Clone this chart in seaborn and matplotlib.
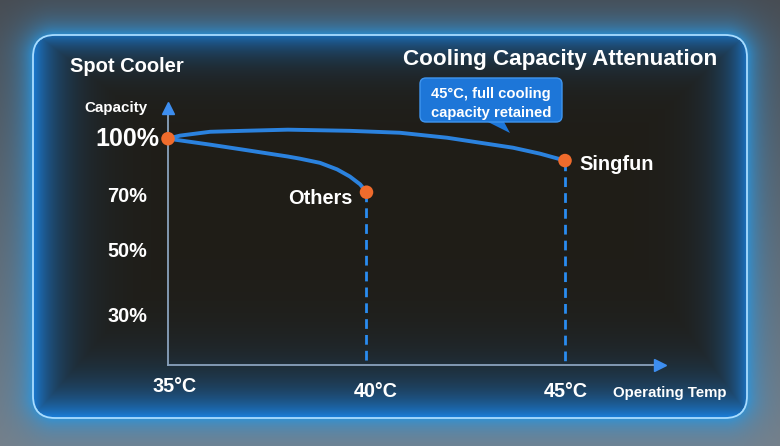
import numpy as np
import pandas as pd
import matplotlib
matplotlib.use("Agg")
import matplotlib.pyplot as plt
import seaborn as sns
from matplotlib.patches import FancyBboxPatch, Polygon

# ---------------- data ----------------
temp_singfun = [35.0, 35.3, 36.06, 36.89, 38.02, 39.58, 40.84, 42.03, 43.69, 44.37, 45.0]
cap_singfun = [100.0, 101.6, 103.6, 104.1, 104.7, 104.1, 103.1, 100.5, 95.3, 92.2, 88.6]
temp_others = [35.0, 36.06, 36.89, 38.02, 38.32, 38.83, 39.26, 39.58, 39.84, 40.0]
cap_others = [100.0, 96.9, 94.3, 90.7, 89.6, 87.4, 84.0, 80.3, 76.2, 72.1]
y_ticks = [100, 70, 50, 30]
y_labels = ["100%", "70%", "50%", "30%"]
x_ticks = [35, 40, 45]
x_labels = ["35°C", "40°C", "45°C"]
series_names = ["Singfun", "Others"]

# non-linear capacity axis as drawn in the picture (pct -> vertical position)
scale_pct = [0, 30, 50, 70, 100, 130]
scale_pos = [-415.5, -318, -253, -197, -139, -81]

sns.set_theme(style="white")
plt.rcParams["font.family"] = ["Liberation Sans", "DejaVu Sans"]

W, H = 780, 446
fig = plt.figure(figsize=(W / 100, H / 100), dpi=100)

# ---------------- background with glowing frame ----------------
yy, xx = np.mgrid[0:H, 0:W].astype(float) + 0.5
x0, x1, y0, y1, r = 33, 747, 35, 418, 22
cx, cy = (x0 + x1) / 2, (y0 + y1) / 2
hx, hy = (x1 - x0) / 2, (y1 - y0) / 2
qx = np.abs(xx - cx) - (hx - r)
qy = np.abs(yy - cy) - (hy - r)
sd = np.hypot(np.maximum(qx, 0), np.maximum(qy, 0)) + np.minimum(np.maximum(qx, qy), 0) - r
inside = sd < 0
dl, dr, dt, db = xx - x0, x1 - xx, yy - y0, y1 - yy
g_in = np.maximum.reduce([
    0.95 * np.exp(-np.clip(dl, 0, None) / 26),
    0.85 * np.exp(-np.clip(dr, 0, None) / 22),
    0.80 * np.exp(-np.clip(dt, 0, None) / 20),
    1.00 * np.exp(-np.clip(db, 0, None) / 30),
])
g_in = np.clip(g_in, 0, 1)
dark = np.array([32, 29, 23], float)
blue_in = np.array([26, 128, 222], float)
img_in = dark[None, None, :] * (1 - g_in[..., None]) + blue_in[None, None, :] * g_in[..., None]

base_out = np.zeros((H, W, 3))
t = np.clip(yy / H, 0, 1)[..., None]
base_out[:] = np.array([72, 76, 82]) * (1 - t) + np.array([118, 128, 138]) * t
g_out = np.exp(-np.clip(sd, 0, None) / 14)[..., None] * 0.85
blue_out = np.array([40, 150, 225], float)
img_out = base_out * (1 - g_out) + blue_out * g_out

img = np.where(inside[..., None], img_in, img_out)
img = np.clip(img, 0, 255).astype(np.uint8)

ax_bg = fig.add_axes([0, 0, 1, 1], zorder=0)
ax_bg.imshow(img, extent=(0, W, H, 0), aspect="auto", interpolation="bilinear")
ax_bg.set_xlim(0, W)
ax_bg.set_ylim(H, 0)
ax_bg.axis("off")

# ---------------- main chart ----------------
ax = fig.add_axes([168 / W, (H - 365) / H, (660 - 168) / W, (365 - 108) / H], zorder=1)
ax.set_facecolor("none")
ax.set_yscale("function", functions=(lambda v: np.interp(v, scale_pct, scale_pos),
                                      lambda p: np.interp(p, scale_pos, scale_pct)))

df = pd.concat([
    pd.DataFrame({"temp": temp_singfun, "cap": cap_singfun, "series": series_names[0]}),
    pd.DataFrame({"temp": temp_others, "cap": cap_others, "series": series_names[1]}),
])
line_blue = "#2b82de"
sns.lineplot(data=df, x="temp", y="cap", units="series", estimator=None, sort=False,
             color=line_blue, linewidth=2.8, ax=ax, legend=False, zorder=3)
for ln in ax.lines:
    ln.set_solid_capstyle("round")
    ln.set_solid_joinstyle("round")

ymin, ymax = 14.9, 116.0
ax.set_xlim(35, 35 + (660 - 168) / 39.7)
ax.set_ylim(ymin, ymax)

# dashed drop lines from each end point
for tv, cv in [(temp_others[-1], cap_others[-1]), (temp_singfun[-1], cap_singfun[-1])]:
    ax.plot([tv, tv], [cv, ymin], color="#2a8cf0", lw=2.0, ls=(0, (3.5, 2.2)), zorder=2,
            clip_on=False)

ends = pd.DataFrame({"temp": [temp_singfun[0], temp_others[-1], temp_singfun[-1]],
                     "cap": [cap_singfun[0], cap_others[-1], cap_singfun[-1]]})
sns.scatterplot(data=ends, x="temp", y="cap", s=95, color="#ef6b2c", edgecolor="none",
                ax=ax, zorder=5, clip_on=False)

for side in ["top", "right"]:
    ax.spines[side].set_visible(False)
for side in ["left", "bottom"]:
    ax.spines[side].set_color("#8aa2bd")
    ax.spines[side].set_linewidth(1.3)
ax.set_xticks([])
ax.set_yticks([])
ax.set_xlabel("")
ax.set_ylabel("")
ax.plot([0], [1], marker="^", ms=9, color="#3d8ef0", transform=ax.transAxes, clip_on=False, zorder=6)
ax.plot([1], [0], marker=">", ms=9, color="#3d8ef0", transform=ax.transAxes, clip_on=False, zorder=6)

# tick labels
for v, lab in zip(y_ticks, y_labels):
    big = v == 100
    ax.annotate(lab, xy=(0, v), xycoords=("axes fraction", "data"),
                xytext=(-9 if big else -21, 0), textcoords="offset pixels",
                ha="right", va="center", fontsize=18 if big else 14.3,
                fontweight="bold", color="white", annotation_clip=False)
x_off = {35: (7, -27), 40: (9, -32), 45: (1, -32)}
for v, lab in zip(x_ticks, x_labels):
    dx, dy = x_off[v]
    ax.annotate(lab, xy=(v, 0), xycoords=("data", "axes fraction"),
                xytext=(dx, dy), textcoords="offset pixels", ha="center", va="baseline",
                fontsize=14.2, fontweight="bold", color="white", annotation_clip=False)

# series labels
ax.annotate(series_names[1], xy=(temp_others[-1], cap_others[-1]), xytext=(-14, -12),
            textcoords="offset pixels", ha="right", va="baseline", fontsize=14.4,
            fontweight="bold", color="white")
ax.annotate(series_names[0], xy=(temp_singfun[-1], cap_singfun[-1]), xytext=(14, -9),
            textcoords="offset pixels", ha="left", va="baseline", fontsize=14.3,
            fontweight="bold", color="white")

# ---------------- overlay: frame, titles, callout ----------------
ov = fig.add_axes([0, 0, 1, 1], zorder=2)
ov.set_xlim(0, W)
ov.set_ylim(H, 0)
ov.axis("off")
ov.patch.set_alpha(0)
ov.add_patch(FancyBboxPatch((x0, y0), x1 - x0, y1 - y0,
                            boxstyle=f"round,pad=0,rounding_size={r}",
                            fc="none", ec="#a8dcff", lw=1.3))

ov.text(70, 72, "Spot Cooler", fontsize=14.5, fontweight="bold", color="white",
        ha="left", va="baseline")
ov.text(560, 65, "Cooling Capacity Attenuation", fontsize=16.2, fontweight="bold",
        color="white", ha="center", va="baseline")
ov.text(84, 112, "Capacity", fontsize=10.9, fontweight="bold", color="white",
        ha="left", va="baseline")
ov.text(613, 397, "Operating Temp", fontsize=10.8, fontweight="bold", color="white",
        ha="left", va="baseline")

ov.add_patch(Polygon([(484, 120), (503, 120), (510, 133)], closed=True,
                     fc="#1d76d8", ec="none"))
ov.add_patch(FancyBboxPatch((420, 78), 142, 44, boxstyle="round,pad=0,rounding_size=6",
                            fc="#1d76d8", ec="#3f95ee", lw=1.0))
ov.text(491, 98, "45°C, full cooling", fontsize=10.6, fontweight="bold", color="white",
        ha="center", va="baseline")
ov.text(491, 117, "capacity retained", fontsize=10.6, fontweight="bold", color="white",
        ha="center", va="baseline")

fig.savefig("out.png", dpi=100)
